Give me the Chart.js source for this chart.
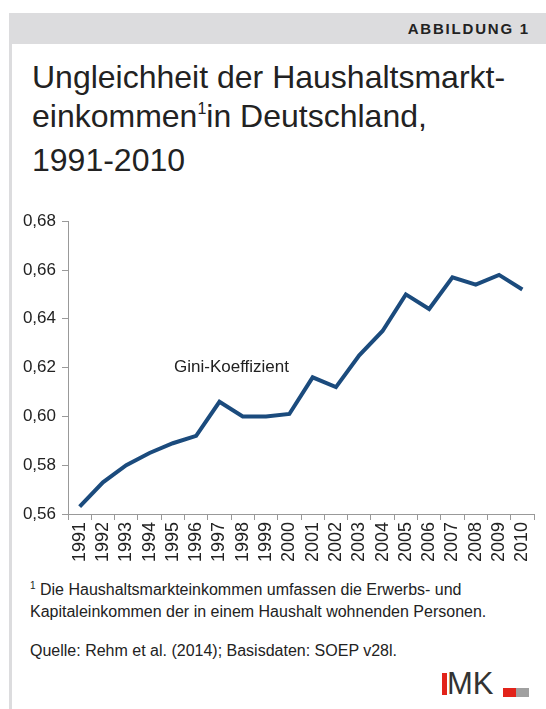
<!DOCTYPE html>
<html>
<head>
<meta charset="utf-8">
<script src="https://cdn.jsdelivr.net/npm/chart.js@4"></script>
<style>
  body { margin: 0; width: 546px; height: 709px; background: #fff; position: relative; overflow: hidden;
         font-family: "Liberation Sans", Arial, sans-serif; color: #222; }
  #head { position: absolute; left: 9px; top: 13px; width: 537px; height: 31px; background: #dcdcde; }
  #head span { position: absolute; right: 16px; top: 7px; font-size: 15px; font-weight: bold; letter-spacing: 1.8px; color: #222; }
  #side { position: absolute; left: 9px; top: 44px; width: 3px; height: 665px; background: #dcdcde; }
  #title { position: absolute; left: 32px; top: 58px; font-size: 32px; line-height: 39px; color: #222; }
  #title sup { font-size: 16px; vertical-align: 0; position: relative; top: -13px; }
  #wrap { position: absolute; left: 12px; top: 205px; width: 534px; height: 365px; }
  .note { position: absolute; left: 30px; font-size: 16px; line-height: 20px; color: #222; }
  .note sup { font-size: 10px; position: relative; top: -6px; vertical-align: 0; }
  #logo { position: absolute; left: 442px; top: 673px; width: 90px; height: 26px; }
</style>
</head>
<body>
<div id="head"><span>ABBILDUNG 1</span></div>
<div id="side"></div>
<div id="title">Ungleichheit der Haushaltsmarkt-<br>einkommen<sup>1</sup>in Deutschland,<br>1991-2010</div>
<div id="wrap"><canvas id="chart"></canvas></div>
<div class="note" style="top:580px"><sup>1</sup> Die Haushaltsmarkteinkommen umfassen die Erwerbs- und<br>Kapitaleinkommen der in einem Haushalt wohnenden Personen.</div>
<div class="note" style="top:641px">Quelle: Rehm et al. (2014); Basisdaten: SOEP v28l.</div>
<div id="logo">
  <div style="position:absolute;left:0;top:0;width:5px;height:22px;background:#e2231a"></div>
  <div style="position:absolute;left:5px;top:-6px;font-size:31px;line-height:33px;color:#333">MK</div>
  <div style="position:absolute;left:61px;top:15px;width:13px;height:9px;background:#e2231a"></div>
  <div style="position:absolute;left:74px;top:15px;width:13px;height:9px;background:#a0a0a0"></div>
</div>
<script>
const years = ["1991","1992","1993","1994","1995","1996","1997","1998","1999","2000",
               "2001","2002","2003","2004","2005","2006","2007","2008","2009","2010"];
const gini = [0.563, 0.573, 0.580, 0.585, 0.589, 0.592, 0.606, 0.600, 0.600, 0.601,
              0.616, 0.612, 0.625, 0.635, 0.650, 0.644, 0.657, 0.654, 0.658, 0.652];
const yTicks = [0.56, 0.58, 0.60, 0.62, 0.64, 0.66, 0.68];
const seriesLabel = "Gini-Koeffizient";

// label inside the plot, placed via the scales
const labelPlugin = {
  id: "seriesLabel",
  afterDraw(chart) {
    const ctx = chart.ctx;
    const x = chart.scales.x.getPixelForValue(4.05);
    const y = chart.scales.y.getPixelForValue(0.62);
    ctx.save();
    ctx.font = "17px 'Liberation Sans', Arial, sans-serif";
    ctx.fillStyle = "#222";
    ctx.textBaseline = "middle";
    ctx.fillText(seriesLabel, x, y);
    ctx.restore();
  }
};

new Chart(document.getElementById("chart"), {
  type: "line",
  data: {
    labels: years,
    datasets: [{
      label: seriesLabel,
      data: gini,
      borderColor: "#1b4b7d",
      borderWidth: 4,
      pointRadius: 0,
      tension: 0,
      borderJoinStyle: "miter"
    }]
  },
  options: {
    responsive: true,
    maintainAspectRatio: false,
    animation: false,
    layout: { padding: { top: 12, right: 2, left: 0, bottom: 0 } },
    plugins: { legend: { display: false }, tooltip: { enabled: false } },
    scales: {
      x: {
        offset: true,
        grid: { offset: true, drawOnChartArea: false, drawTicks: true, tickLength: 6, color: "#999" },
        border: { color: "#999", width: 1 },
        ticks: { color: "#222", font: { size: 18, family: "'Liberation Sans', Arial, sans-serif" },
                 maxRotation: 90, minRotation: 90, padding: 2, autoSkip: false },
        afterFit(s) { s.height = 56; }
      },
      y: {
        min: 0.56, max: 0.68,
        afterBuildTicks(s) { s.ticks = yTicks.map(v => ({ value: v })); },
        grid: { drawOnChartArea: false, drawTicks: true, tickLength: 6, color: "#999" },
        border: { color: "#999", width: 1 },
        ticks: { color: "#222", font: { size: 17, family: "'Liberation Sans', Arial, sans-serif" }, padding: 6,
                 callback: v => v.toFixed(2).replace(".", ",") },
        afterFit(s) { s.width = 56; }
      }
    }
  },
  plugins: [labelPlugin]
});
</script>
</body>
</html>
